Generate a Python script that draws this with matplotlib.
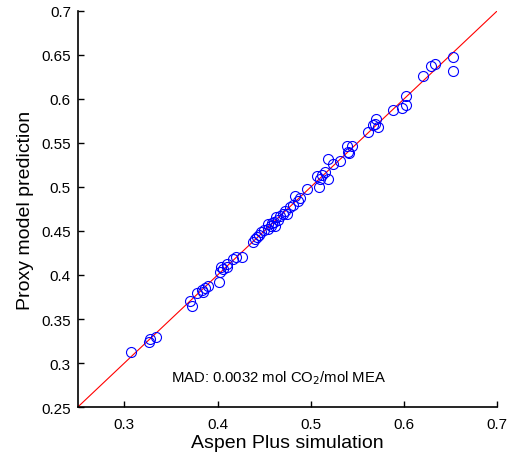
import matplotlib
matplotlib.use("Agg")
import matplotlib.pyplot as plt

plt.rcParams['font.family'] = ['Liberation Sans', 'DejaVu Sans']

aspen = [0.307, 0.326, 0.327, 0.334, 0.370, 0.372, 0.3775, 0.383, 0.384, 0.386,
         0.390, 0.402, 0.4025, 0.404, 0.406, 0.410, 0.410, 0.417, 0.420, 0.426,
         0.438, 0.440, 0.442, 0.444, 0.447, 0.450, 0.454, 0.454, 0.457, 0.458,
         0.460, 0.4615, 0.463, 0.465, 0.467, 0.4705, 0.472, 0.474, 0.478, 0.481,
         0.483, 0.4866, 0.488, 0.4956, 0.5063, 0.509, 0.510, 0.512, 0.515, 0.518,
         0.519, 0.524, 0.5314, 0.5386, 0.540, 0.5415, 0.544, 0.561, 0.567, 0.569,
         0.5697, 0.5725, 0.5887, 0.5976, 0.602, 0.602, 0.620, 0.629, 0.6335,
         0.6524, 0.6524]
proxy = [0.313, 0.3235, 0.327, 0.330, 0.371, 0.365, 0.380, 0.383, 0.381, 0.385,
         0.388, 0.392, 0.403, 0.409, 0.407, 0.409, 0.4125, 0.418, 0.420, 0.420,
         0.437, 0.441, 0.443, 0.445, 0.449, 0.451, 0.452, 0.458, 0.456, 0.459,
         0.460, 0.456, 0.4655, 0.463, 0.467, 0.469, 0.473, 0.469, 0.477, 0.479,
         0.490, 0.4845, 0.488, 0.4977, 0.5128, 0.4997, 0.509, 0.514, 0.5167, 0.509,
         0.532, 0.526, 0.530, 0.547, 0.5394, 0.539, 0.547, 0.562, 0.570, 0.5716,
         0.577, 0.568, 0.5875, 0.5898, 0.593, 0.603, 0.6257, 0.638, 0.6398,
         0.648, 0.632]

diag = [0.25, 0.7]
xticks = [0.3, 0.4, 0.5, 0.6, 0.7]
yticks = [0.25, 0.3, 0.35, 0.4, 0.45, 0.5, 0.55, 0.6, 0.65, 0.7]

fig = plt.figure(figsize=(5.12, 4.6), dpi=100)
ax = fig.add_axes([0.152, 0.113, 0.819, 0.861])

ax.plot(diag, diag, color='red', lw=0.8, zorder=1)
ax.plot(aspen, proxy, 'o', mfc='none', mec='blue', mew=0.8, ms=7.2, zorder=2)

ax.set_xlim(0.25, 0.7)
ax.set_ylim(0.25, 0.7)
ax.set_xticks(xticks)
ax.set_xticklabels([f"{t:g}" for t in xticks])
ax.set_yticks(yticks)
ax.set_yticklabels([f"{t:g}" for t in yticks])
ax.tick_params(direction='in', length=4, width=1, labelsize=11, colors='black')
ax.tick_params(axis='x', pad=7)
ax.tick_params(axis='y', pad=5)
for s in ['top', 'right']:
    ax.spines[s].set_visible(False)
for s in ['left', 'bottom']:
    ax.spines[s].set_linewidth(1.2)

ax.set_xlabel('Aspen Plus simulation', fontsize=14, labelpad=2)
ax.set_ylabel('Proxy model prediction', fontsize=14, labelpad=5)

ax.text(0.465, 0.284, 'MAD: 0.0032 mol CO$_2$/mol MEA', fontsize=10.7,
        ha='center', va='center')

fig.savefig('out.png', dpi=100)
